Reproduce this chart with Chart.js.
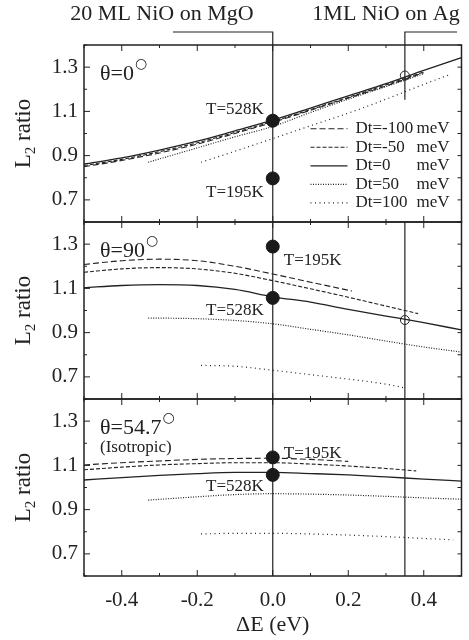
<!DOCTYPE html>
<html>
<head>
<meta charset="utf-8">
<script src="https://cdn.jsdelivr.net/npm/chart.js@4.4.1/dist/chart.umd.min.js"></script>
<style>
  html, body { margin: 0; background: #fff; }
  #wrap { position: relative; width: 469px; height: 640px; overflow: hidden; }
  #wrap canvas { position: absolute; left: 0; }
</style>
</head>
<body>
<div id="wrap">
  <canvas id="p0" width="469" height="230" style="top:0px"></canvas>
  <canvas id="p90" width="469" height="215" style="top:200px"></canvas>
  <canvas id="p547" width="469" height="260" style="top:380px"></canvas>
</div>
<script>
// series names, shared by all three panels
const dtLabels = ['Dt=-100', 'Dt=-50', 'Dt=0', 'Dt=50', 'Dt=100'];
const dtUnit = 'meV';
const tempLabels = ['T=195K', 'T=528K'];

// measured points: 20 ML NiO/MgO at dE = 0, 1 ML NiO/Ag at dE = 0.35
const expDE = 0;
const agDE = 0.35;

const xFull = [-0.5, -0.4, -0.3, -0.2, -0.1, 0, 0.1, 0.2, 0.3, 0.4, 0.5];

// theta = 0
const t0_xm100 = [-0.5, -0.4, -0.3, -0.2, -0.1, 0, 0.1, 0.2, 0.3, 0.4];
const t0_ym100 = [0.850, 0.878, 0.912, 0.952, 1.000, 1.050, 1.105, 1.160, 1.215, 1.275];
const t0_ym50 = [0.855, 0.883, 0.918, 0.958, 1.005, 1.054, 1.108, 1.163, 1.220, 1.278];
const t0_y0 = [0.862, 0.890, 0.925, 0.965, 1.012, 1.060, 1.115, 1.170, 1.225, 1.285, 1.343];
const t0_x50 = [-0.33, -0.2, -0.1, 0, 0.1, 0.2, 0.3, 0.4];
const t0_y50 = [0.870, 0.935, 0.985, 1.032, 1.095, 1.155, 1.212, 1.270];
const t0_x100 = [-0.19, -0.1, 0, 0.1, 0.2, 0.3, 0.4, 0.47];
const t0_y100 = [0.870, 0.920, 0.977, 1.035, 1.092, 1.155, 1.222, 1.267];
const t0_temps = [0.797, 1.058];
const t0_ag = 1.262;

// theta = 90
const t90_xm100 = [-0.5, -0.4, -0.3, -0.2, -0.1, 0, 0.1, 0.21];
const t90_ym100 = [1.208, 1.225, 1.232, 1.225, 1.200, 1.165, 1.128, 1.088];
const t90_xm50 = [-0.5, -0.4, -0.3, -0.2, -0.1, 0, 0.1, 0.2, 0.3, 0.385];
const t90_ym50 = [1.173, 1.188, 1.194, 1.188, 1.168, 1.135, 1.098, 1.060, 1.020, 0.986];
const t90_y0 = [1.103, 1.113, 1.117, 1.113, 1.095, 1.062, 1.038, 1.005, 0.975, 0.945, 0.912];
const t90_x50 = [-0.33, -0.2, -0.1, 0, 0.1, 0.2, 0.3, 0.4, 0.5];
const t90_y50 = [0.966, 0.963, 0.955, 0.940, 0.915, 0.890, 0.862, 0.835, 0.812];
const t90_x100 = [-0.19, -0.1, 0, 0.1, 0.2, 0.3, 0.35];
const t90_y100 = [0.752, 0.748, 0.730, 0.710, 0.690, 0.667, 0.650];
const t90_temps = [1.289, 1.057];
const t90_ag = 0.957;

// theta = 54.7 (isotropic)
const t547_xm100 = [-0.5, -0.4, -0.3, -0.2, -0.1, 0, 0.1, 0.2];
const t547_ym100 = [1.102, 1.112, 1.120, 1.127, 1.131, 1.132, 1.127, 1.118];
const t547_xm50 = [-0.5, -0.4, -0.3, -0.2, -0.1, 0, 0.1, 0.2, 0.3, 0.38];
const t547_ym50 = [1.080, 1.092, 1.102, 1.108, 1.112, 1.112, 1.106, 1.097, 1.086, 1.075];
const t547_y0 = [1.034, 1.045, 1.055, 1.063, 1.068, 1.068, 1.063, 1.057, 1.048, 1.038, 1.029];
const t547_x50 = [-0.33, -0.2, -0.1, 0, 0.1, 0.2, 0.3, 0.4, 0.5];
const t547_y50 = [0.943, 0.958, 0.968, 0.972, 0.970, 0.966, 0.960, 0.953, 0.947];
const t547_x100 = [-0.19, -0.1, 0, 0.1, 0.2, 0.3, 0.4, 0.478];
const t547_y100 = [0.790, 0.793, 0.793, 0.790, 0.785, 0.778, 0.770, 0.763];
const t547_temps = [1.136, 1.057];

const INK = '#222';
const SERIF = "'Liberation Serif', 'Times New Roman', serif";
const dtDash = [[6, 3], [4, 2], [], [1, 1.5], [1, 3.5]];
const dtWidth = [1.1, 1.1, 1.3, 1.2, 1.2];

function fmtX(v) {
  const r = Math.round(v * 10);
  return (r % 2 === 0 && Math.abs(r) < 5) ? (r / 10).toFixed(1) : '';
}
function fmtY(v) {
  const r = Math.round(v * 10);
  return r % 2 === 1 ? (r / 10).toFixed(1) : '';
}

// keep the plot area fixed: no extra room reserved for edge labels
function noPad(s) {
  s.paddingLeft = 0;
  s.paddingRight = 0;
  s.paddingTop = 0;
  s.paddingBottom = 0;
}

function text(ctx, s, x, y, size, align) {
  ctx.font = size + 'px ' + SERIF;
  ctx.textAlign = align || 'left';
  ctx.textBaseline = 'alphabetic';
  ctx.fillText(s, x, y);
  return ctx.measureText(s).width;
}

function makePanel(id, cfg) {
  const datasets = cfg.curves.map((c, i) => ({
    label: dtLabels[i],
    data: c[0].map((x, k) => ({ x, y: c[1][k] })),
    showLine: true,
    pointRadius: 0,
    borderColor: INK,
    borderWidth: dtWidth[i],
    borderDash: dtDash[i],
    cubicInterpolationMode: 'monotone',
    order: 2
  }));
  datasets.push({
    label: 'NiO/MgO',
    data: cfg.temps.map(y => ({ x: expDE, y })),
    showLine: false,
    pointRadius: 6.5,
    backgroundColor: '#1a1a1a',
    borderColor: '#1a1a1a',
    order: 0
  });
  if (cfg.ag != null) {
    datasets.push({
      label: 'NiO/Ag',
      data: [{ x: agDE, y: cfg.ag }],
      showLine: false,
      pointRadius: 4.5,
      borderWidth: 1,
      backgroundColor: 'rgba(0,0,0,0)',
      borderColor: INK,
      order: 1
    });
  }

  const decor = {
    id: 'decor',
    beforeDatasetsDraw(chart) {
      const { ctx, chartArea: a, scales: { x, y } } = chart;
      const x0 = x.getPixelForValue(expDE);
      const x1 = x.getPixelForValue(agDE);
      ctx.save();
      ctx.strokeStyle = INK;
      ctx.lineWidth = 1.2;
      ctx.beginPath();
      if (cfg.header) {
        const hy = a.top - 13;
        ctx.moveTo(173, hy); ctx.lineTo(x0, hy); ctx.lineTo(x0, a.bottom);
        ctx.moveTo(457, hy); ctx.lineTo(x1, hy); ctx.lineTo(x1, y.getPixelForValue(cfg.agCut));
      } else {
        ctx.moveTo(x0, a.top); ctx.lineTo(x0, a.bottom);
        ctx.moveTo(x1, a.top); ctx.lineTo(x1, a.bottom);
      }
      ctx.stroke();
      ctx.restore();
    },
    afterDraw(chart) {
      const { ctx, chartArea: a, scales: { x, y } } = chart;
      ctx.save();
      ctx.fillStyle = INK;
      ctx.strokeStyle = INK;

      // inward ticks on all four sides, then the frame
      ctx.lineWidth = 1;
      ctx.beginPath();
      x.ticks.forEach(t => {
        const px = x.getPixelForValue(t.value);
        const len = Math.round(t.value * 10) % 2 === 0 ? 6 : 3;
        ctx.moveTo(px, a.top); ctx.lineTo(px, a.top + len);
        ctx.moveTo(px, a.bottom); ctx.lineTo(px, a.bottom - len);
      });
      y.ticks.forEach(t => {
        const py = y.getPixelForValue(t.value);
        const major = Math.abs(Math.round(t.value * 10)) % 2 === 1;
        ctx.moveTo(a.left, py); ctx.lineTo(a.left + (major ? 6 : 3), py);
        ctx.moveTo(a.right, py); ctx.lineTo(a.right - 4, py);
      });
      ctx.stroke();
      ctx.lineWidth = 1.5;
      ctx.strokeRect(a.left, a.top, a.right - a.left, a.bottom - a.top);

      // y title with subscript
      ctx.save();
      ctx.translate(30, (a.top + a.bottom) / 2);
      ctx.rotate(-Math.PI / 2);
      ctx.font = '23px ' + SERIF;
      const wL = ctx.measureText('L').width;
      const wR = ctx.measureText(' ratio').width;
      ctx.font = '15px ' + SERIF;
      const w2 = ctx.measureText('2').width;
      const sx = -(wL + w2 + wR) / 2;
      text(ctx, 'L', sx, 0, 23);
      text(ctx, '2', sx + wL, 5, 15);
      text(ctx, ' ratio', sx + wL + w2, 0, 23);
      ctx.restore();

      // angle label
      const tx = a.left + 16, ty = a.top + 35;
      const tw = text(ctx, cfg.theta, tx, ty, 22);
      ctx.font = "14px 'DejaVu Sans'";
      ctx.textAlign = 'left';
      ctx.textBaseline = 'middle';
      ctx.fillText('\u25CB', tx + tw + 1, ty - 16);
      if (cfg.sub) text(ctx, cfg.sub, tx, ty + 18, 17);

      // temperature labels beside the filled points
      const px = x.getPixelForValue(expDE);
      cfg.tempPos.forEach((p, i) => {
        const py = y.getPixelForValue(cfg.temps[i]);
        if (p[0] === 'r') text(ctx, tempLabels[i], px + 11, py + p[1], 17, 'left');
        else text(ctx, tempLabels[i], px - 9, py + p[1], 17, 'right');
      });

      if (cfg.header) {
        text(ctx, '20 ML NiO on MgO', 162, 20, 22, 'center');
        text(ctx, '1ML NiO on Ag', 386, 20, 22, 'center');

        // legend, styled from the datasets
        dtLabels.forEach((lab, i) => {
          const by = a.top + 88.3 + i * 18.5;
          const ds = chart.data.datasets[i];
          ctx.save();
          ctx.lineWidth = ds.borderWidth;
          ctx.setLineDash(ds.borderDash);
          ctx.beginPath();
          ctx.moveTo(a.right - 151, by - 4.5);
          ctx.lineTo(a.right - 114, by - 4.5);
          ctx.stroke();
          ctx.restore();
          text(ctx, lab, a.right - 106, by, 17);
          text(ctx, dtUnit, a.right - 45, by, 17);
        });
      }
      ctx.restore();
    }
  };

  return new Chart(document.getElementById(id), {
    type: 'scatter',
    data: { datasets },
    options: {
      responsive: false,
      animation: false,
      events: [],
      layout: { padding: cfg.padding },
      plugins: { legend: { display: false }, tooltip: { enabled: false } },
      scales: {
        x: {
          type: 'linear',
          min: -0.5,
          max: 0.5,
          display: !!cfg.showX,
          grid: { display: false, drawTicks: false },
          border: { display: false },
          ticks: {
            stepSize: 0.1, autoSkip: false, maxRotation: 0, padding: 12,
            color: INK, font: { family: SERIF, size: 21 }, callback: fmtX
          },
          title: {
            display: true, text: '\u0394E (eV)', color: INK,
            font: { family: SERIF, size: 22 }, padding: { top: 0, bottom: 2 }
          },
          afterFit: s => {
            noPad(s);
            if (cfg.showX) s.height = 64;
          }
        },
        y: {
          min: 0.6,
          max: 1.4,
          grid: { display: false, drawTicks: false },
          border: { display: false },
          ticks: {
            stepSize: 0.1, autoSkip: false, padding: 6,
            color: INK, font: { family: SERIF, size: 21 }, callback: fmtY
          },
          afterFit: s => {
            noPad(s);
            s.width = 84;
          }
        }
      }
    },
    plugins: [decor]
  });
}

makePanel('p0', {
  curves: [[t0_xm100, t0_ym100], [t0_xm100, t0_ym50], [xFull, t0_y0], [t0_x50, t0_y50], [t0_x100, t0_y100]],
  temps: t0_temps,
  ag: t0_ag,
  agCut: 1.153,
  header: true,
  theta: '\u03B8=0',
  tempPos: [['l', 19], ['l', -7]],
  padding: { top: 45, right: 6, bottom: 8, left: 0 }
});

makePanel('p90', {
  curves: [[t90_xm100, t90_ym100], [t90_xm50, t90_ym50], [xFull, t90_y0], [t90_x50, t90_y50], [t90_x100, t90_y100]],
  temps: t90_temps,
  ag: t90_ag,
  theta: '\u03B8=90',
  tempPos: [['r', 18], ['l', 17]],
  padding: { top: 22, right: 6, bottom: 16, left: 0 }
});

makePanel('p547', {
  curves: [[t547_xm100, t547_ym100], [t547_xm50, t547_ym50], [xFull, t547_y0], [t547_x50, t547_y50], [t547_x100, t547_y100]],
  temps: t547_temps,
  theta: '\u03B8=54.7',
  sub: '(Isotropic)',
  showX: true,
  tempPos: [['r', 1], ['l', 16.5]],
  padding: { top: 19, right: 6, bottom: 0, left: 0 }
});
</script>
</body>
</html>
